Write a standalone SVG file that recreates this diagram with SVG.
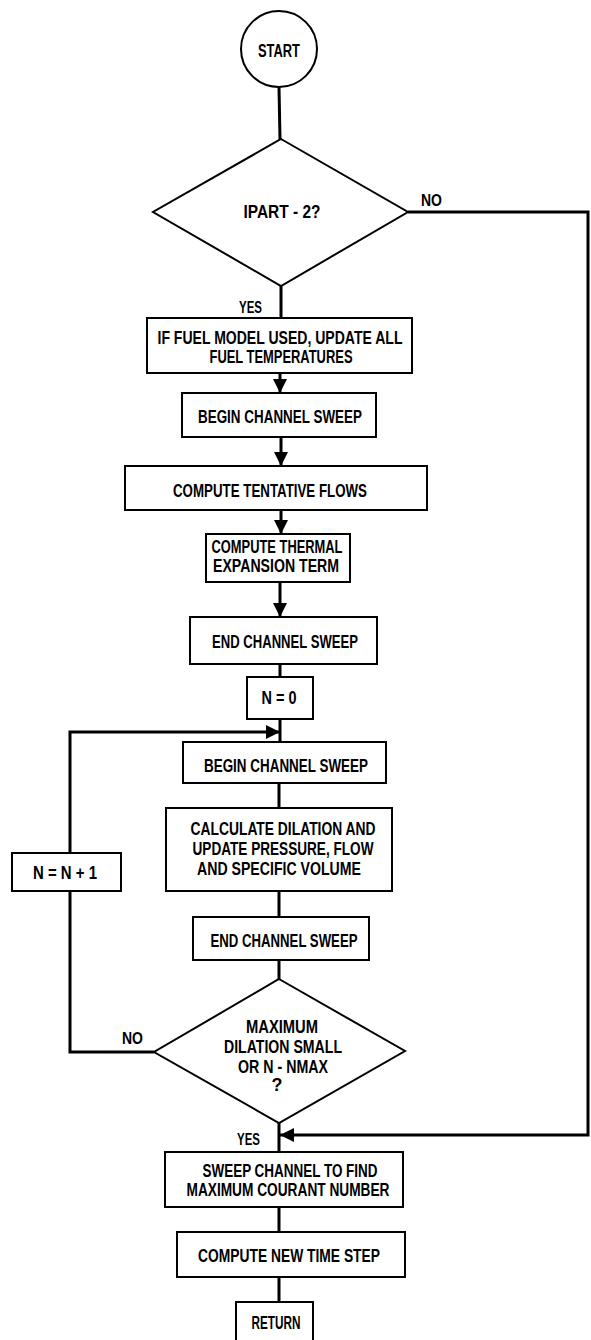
<svg xmlns="http://www.w3.org/2000/svg" width="591" height="1340" viewBox="0 0 591 1340">
  <style>
    .box { fill: #fff; stroke: #000; stroke-width: 2; }
    .wire { fill: none; stroke: #000; stroke-width: 3; }
    .t { font-family: "Liberation Sans", Arial, sans-serif; font-weight: bold; font-size: 18px; fill: #000; text-anchor: middle; }
    .lbl { font-family: "Liberation Sans", Arial, sans-serif; font-weight: bold; font-size: 17px; fill: #000; }
  </style>
  <defs>
    <marker id="arrow" markerUnits="userSpaceOnUse" markerWidth="16" markerHeight="16" viewBox="0 0 16 16" refX="14" refY="8" orient="auto">
      <path d="M0,1 L14,8 L0,15 Z" fill="#000"/>
    </marker>
  </defs>
  <rect width="591" height="1340" fill="#fff"/>

  <!-- connectors -->
  <g id="connectors">
    <path class="wire" d="M279,87 L280,139"/>
    <path class="wire" d="M281,286 L281,318"/>
    <path class="wire" d="M280,373 L280,393" marker-end="url(#arrow)"/>
    <path class="wire" d="M281,437 L281,466" marker-end="url(#arrow)"/>
    <path class="wire" d="M281,510 L281,534" marker-end="url(#arrow)"/>
    <path class="wire" d="M280,582 L280,617" marker-end="url(#arrow)"/>
    <path class="wire" d="M280,664 L280,677"/>
    <path class="wire" d="M280,719 L280,742"/>
    <path class="wire" d="M279,783 L279,808"/>
    <path class="wire" d="M279,891 L279,917"/>
    <path class="wire" d="M279,960 L279,979"/>
    <path class="wire" d="M279,1123 L279,1152"/>
    <path class="wire" d="M279,1207 L279,1232"/>
    <path class="wire" d="M279,1277 L279,1302"/>
    <!-- NO branch of the first test, rejoining above the courant sweep -->
    <path class="wire" d="M408,212 L588,212 L588,1135 L280,1135" marker-end="url(#arrow)"/>
    <!-- iteration loop -->
    <path class="wire" d="M154,1052 L70,1052 L70,891"/>
    <path class="wire" d="M70,853 L70,732 L280,732" marker-end="url(#arrow)"/>
  </g>

  <g id="start">
    <circle cx="279" cy="49" r="38" fill="#fff" stroke="#000" stroke-width="2"/>
    <text class="t" x="279" y="57" textLength="42" lengthAdjust="spacingAndGlyphs">START</text>
  </g>

  <g id="ipart-test">
    <polygon class="box" points="281,139 408,212 281,286 153,212"/>
    <text class="t" x="282" y="218" textLength="77" lengthAdjust="spacingAndGlyphs">IPART - 2?</text>
    <text class="lbl" x="421" y="206" textLength="21" lengthAdjust="spacingAndGlyphs">NO</text>
    <text class="lbl" x="239" y="313" textLength="23" lengthAdjust="spacingAndGlyphs">YES</text>
  </g>

  <g id="update-fuel">
    <rect class="box" x="147" y="318" width="265" height="55"/>
    <text class="t" x="280" y="344" textLength="245" lengthAdjust="spacingAndGlyphs">IF FUEL MODEL USED, UPDATE ALL</text>
    <text class="t" x="281" y="363" textLength="143" lengthAdjust="spacingAndGlyphs">FUEL TEMPERATURES</text>
  </g>

  <g id="begin-sweep-1">
    <rect class="box" x="182" y="393" width="194" height="44"/>
    <text class="t" x="280" y="423" textLength="164" lengthAdjust="spacingAndGlyphs">BEGIN CHANNEL SWEEP</text>
  </g>

  <g id="tentative-flows">
    <rect class="box" x="125" y="466" width="302" height="44"/>
    <text class="t" x="270" y="497" textLength="194" lengthAdjust="spacingAndGlyphs">COMPUTE TENTATIVE FLOWS</text>
  </g>

  <g id="thermal-expansion">
    <rect class="box" x="206" y="534" width="144" height="48"/>
    <text class="t" x="277" y="553" textLength="131" lengthAdjust="spacingAndGlyphs">COMPUTE THERMAL</text>
    <text class="t" x="276" y="572" textLength="126" lengthAdjust="spacingAndGlyphs">EXPANSION TERM</text>
  </g>

  <g id="end-sweep-1">
    <rect class="box" x="190" y="617" width="187" height="47"/>
    <text class="t" x="285" y="648" textLength="146" lengthAdjust="spacingAndGlyphs">END CHANNEL SWEEP</text>
  </g>

  <g id="n-zero">
    <rect class="box" x="247" y="677" width="66" height="42"/>
    <text class="t" x="279" y="704" textLength="35" lengthAdjust="spacingAndGlyphs">N = 0</text>
  </g>

  <g id="begin-sweep-2">
    <rect class="box" x="183" y="742" width="203" height="41"/>
    <text class="t" x="286" y="772" textLength="164" lengthAdjust="spacingAndGlyphs">BEGIN CHANNEL SWEEP</text>
  </g>

  <g id="dilation">
    <rect class="box" x="166" y="808" width="226" height="83"/>
    <text class="t" x="283" y="835" textLength="185" lengthAdjust="spacingAndGlyphs">CALCULATE DILATION AND</text>
    <text class="t" x="283" y="855" textLength="181" lengthAdjust="spacingAndGlyphs">UPDATE PRESSURE, FLOW</text>
    <text class="t" x="279" y="875" textLength="164" lengthAdjust="spacingAndGlyphs">AND SPECIFIC VOLUME</text>
  </g>

  <g id="n-increment">
    <rect class="box" x="12" y="853" width="109" height="38"/>
    <text class="t" x="65" y="879" textLength="64" lengthAdjust="spacingAndGlyphs">N = N + 1</text>
  </g>

  <g id="end-sweep-2">
    <rect class="box" x="193" y="917" width="176" height="43"/>
    <text class="t" x="284" y="947" textLength="147" lengthAdjust="spacingAndGlyphs">END CHANNEL SWEEP</text>
  </g>

  <g id="convergence-test">
    <polygon class="box" points="279,979 405,1051 279,1123 154,1052"/>
    <text class="t" x="282" y="1033" textLength="72" lengthAdjust="spacingAndGlyphs">MAXIMUM</text>
    <text class="t" x="283" y="1053" textLength="118" lengthAdjust="spacingAndGlyphs">DILATION SMALL</text>
    <text class="t" x="283" y="1073" textLength="90" lengthAdjust="spacingAndGlyphs">OR N - NMAX</text>
    <text class="t" x="277" y="1091">?</text>
    <text class="lbl" x="122" y="1044" textLength="21" lengthAdjust="spacingAndGlyphs">NO</text>
    <text class="lbl" x="237" y="1145" textLength="23" lengthAdjust="spacingAndGlyphs">YES</text>
  </g>

  <g id="courant">
    <rect class="box" x="165" y="1152" width="238" height="55"/>
    <text class="t" x="290" y="1177" textLength="175" lengthAdjust="spacingAndGlyphs">SWEEP CHANNEL TO FIND</text>
    <text class="t" x="288" y="1196" textLength="203" lengthAdjust="spacingAndGlyphs">MAXIMUM COURANT NUMBER</text>
  </g>

  <g id="time-step">
    <rect class="box" x="177" y="1232" width="228" height="45"/>
    <text class="t" x="289" y="1262" textLength="182" lengthAdjust="spacingAndGlyphs">COMPUTE NEW TIME STEP</text>
  </g>

  <g id="return">
    <rect class="box" x="236" y="1302" width="77" height="48"/>
    <text class="t" x="276" y="1329" textLength="49" lengthAdjust="spacingAndGlyphs">RETURN</text>
  </g>
</svg>
